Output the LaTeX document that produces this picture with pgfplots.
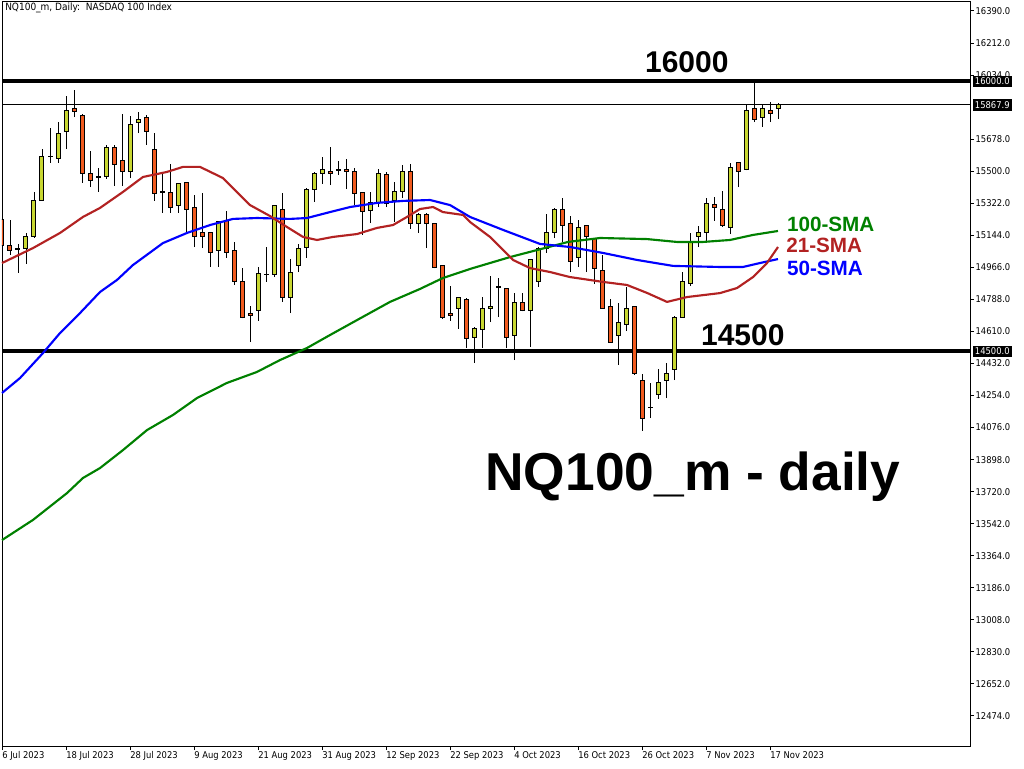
\documentclass[border=0pt]{standalone}
\usepackage{pgfplots}
\pgfplotsset{compat=1.18}
\usepackage{pgfplotstable}
\usepackage{fontspec}
\setmainfont{DejaVu Sans Condensed}
\newfontfamily\arialfont{Liberation Sans}
\definecolor{bull}{RGB}{200,215,50}
\definecolor{bear}{RGB}{240,90,30}
\definecolor{smared}{RGB}{178,34,34}
\definecolor{smablue}{RGB}{0,0,255}
\definecolor{smagreen}{RGB}{0,128,0}
\newcommand\tickfont{\fontsize{7pt}{8pt}\selectfont}

\pgfplotstableread{
k O H L C
0 15229 15235 15079 15090
1 15090 15229 15035 15062
2 15068 15096 14935 15066
3 15068 15157 14985 15140
4 15135 15385 15130 15340
5 15340 15623 15335 15579
6 15579 15740 15546 15582
7 15573 15773 15546 15712
8 15723 15918 15623 15835
9 15846 15951 15801 15829
10 15812 15818 15435 15490
11 15490 15612 15412 15451
12 15468 15518 15385 15466
13 15468 15646 15457 15629
14 15629 15646 15418 15535
15 15557 15818 15418 15496
16 15496 15807 15462 15757
17 15768 15829 15712 15790
18 15796 15812 15646 15723
19 15623 15712 15335 15374
20 15390 15485 15268 15379
21 15379 15540 15268 15296
22 15307 15432 15268 15429
23 15435 15438 15162 15290
24 15296 15368 15079 15135
25 15157 15379 15073 15135
26 15162 15165 14968 15046
27 15057 15221 14968 15218
28 15224 15279 15018 15051
29 15062 15107 14868 14885
30 14890 14963 14682 14685
31 14707 14751 14551 14696
32 14724 14968 14668 14930
33 14924 15079 14885 14926
34 14924 15310 14912 15307
35 15290 15379 14775 14796
36 14801 15012 14712 14935
37 14974 15096 14940 15068
38 15079 15404 15018 15401
39 15401 15496 15329 15490
40 15485 15579 15429 15512
41 15501 15635 15423 15485
42 15507 15557 15479 15505
43 15512 15568 15401 15501
44 15496 15518 15313 15374
45 15379 15385 15146 15274
46 15279 15385 15212 15324
47 15324 15512 15301 15485
48 15479 15496 15301 15318
49 15335 15440 15218 15390
50 15390 15535 15351 15501
51 15501 15540 15179 15212
52 15212 15268 15157 15257
53 15257 15268 15073 15212
54 15212 15215 14960 14963
55 14974 14977 14679 14685
56 14712 14862 14668 14696
57 14735 14801 14624 14796
58 14790 14796 14518 14573
59 14579 14632 14435 14629
60 14618 14801 14518 14735
61 14735 14918 14662 14751
62 14857 14907 14690 14855
63 14851 14854 14518 14579
64 14585 14824 14451 14768
65 14768 14824 14721 14724
66 14724 15010 14524 15007
67 14885 15079 14857 15068
68 15073 15262 15046 15162
69 15162 15293 15129 15290
70 15285 15351 15107 15201
71 15207 15251 14940 14996
72 15023 15229 14968 15190
73 15196 15199 14940 15135
74 15124 15127 14874 14957
75 14946 15035 14735 14740
76 14751 14790 14546 14551
77 14590 14768 14424 14657
78 14651 14857 14612 14740
79 14746 14749 14368 14379
80 14335 14373 14057 14129
81 14190 14323 14129 14188
82 14257 14401 14235 14329
83 14335 14435 14240 14379
84 14401 14693 14340 14690
85 14690 14940 14687 14890
86 14874 15157 14862 15112
87 15140 15196 15079 15157
88 15157 15351 15107 15318
89 15313 15357 15224 15301
90 15290 15390 15190 15201
91 15190 15546 15151 15518
92 15546 15549 15412 15501
93 15507 15873 15504 15835
94 15846 16001 15773 15790
95 15796 15868 15746 15846
96 15835 15885 15773 15823
97 15851 15879 15790 15867.9
}\ohlc

\pgfplotstableread{
k p
0 14990
3.875 15073
7.25 15157
10.125 15246
12.25 15296
15.125 15385
17.625 15468
20.625 15496
22.625 15524
24.75 15524
27.625 15462
31 15312
33.5 15251
35.625 15190
37.625 15135
39.375 15118
41.375 15135
44.375 15151
46.875 15185
48.875 15201
50.625 15246
52.25 15290
53.875 15301
55.125 15273
57.625 15257
58.5 15218
61 15135
63.875 15007
66 14962
68.5 14940
71 14912
75.125 14885
78.125 14868
80.625 14824
83.125 14774
85.625 14801
89.75 14823
91.875 14851
93.875 14912
95.625 14990
97 15079
}\smaTwentyOne

\pgfplotstableread{
k p
0 14268
2.25 14351
5.125 14490
7.25 14601
9.75 14712
12.25 14829
14.375 14896
16.375 14979
20.125 15101
23.125 15157
26 15201
28.875 15235
31.875 15240
36 15235
38.125 15240
41 15273
43.5 15301
46.875 15324
50.125 15335
53.5 15340
56 15312
58.5 15246
62.625 15174
67.25 15096
71 15079
75.125 15046
79.375 15007
83.875 14974
89.75 14968
92.625 14968
94.75 14990
97 15012
}\smaFifty

\pgfplotstableread{
k p
0 13451
3.875 13563
8.125 13712
10.125 13796
12.25 13851
15.125 13951
18.125 14062
21.375 14146
24.375 14240
28.125 14324
31.875 14385
34.75 14451
38.125 14518
41 14590
44.375 14673
48.5 14774
52.25 14846
55.125 14907
58.5 14957
63.5 15023
66.875 15062
70.75 15107
74.75 15129
80.625 15123
84.375 15107
87.625 15107
91 15118
93.875 15146
97 15168
}\smaHundred

\begin{document}
\begin{tikzpicture}
\path[use as bounding box] (0,0) rectangle (768pt,576pt);
\pgfplotsset{base/.style={width=726pt, height=558pt, scale only axis,
  at={(1.5pt,16.5pt)}, anchor=south west,
  xmin=0, xmax=121, ymin=12307.1, ymax=16440}}

% axis frame, ticks, level lines and wicks
\begin{axis}[base,
  axis line style={black, line width=0.75pt},
  tick align=outside, major tick length=3pt,
  tick style={black, line width=0.75pt},
  xtick pos=left, ytick pos=right,
  xticklabel pos=left, yticklabel pos=right,
  xtick={0,8,...,96},
  xticklabels={6 Jul 2023,18 Jul 2023,28 Jul 2023,9 Aug 2023,21 Aug 2023,31 Aug 2023,12 Sep 2023,22 Sep 2023,4 Oct 2023,16 Oct 2023,26 Oct 2023,7 Nov 2023,17 Nov 2023},
  xticklabel style={font=\tickfont, anchor=north west, inner sep=0pt, yshift=-1pt},
  ytick={12474,12652,12830,13008,13186,13364,13542,13720,13898,14076,14254,14432,14610,14788,14966,15144,15322,15500,15678,16034,16212,16390},
  yticklabel style={font=\tickfont, anchor=west, inner sep=0pt, xshift=1pt},
  /pgf/number format/fixed, /pgf/number format/fixed zerofill,
  /pgf/number format/precision=1, /pgf/number format/1000 sep={},
  /pgf/number format/assume math mode=true,
  scaled y ticks=false]
\addplot[black, line width=3pt] coordinates {(0,16000) (121,16000)};
\addplot[black, line width=3pt] coordinates {(0,14500) (121,14500)};
\addplot[black, line width=0.75pt] coordinates {(0,15867.9) (121,15867.9)};
\addplot[draw=none, error bars/.cd, y dir=plus, y explicit, error mark=none,
  error bar style={draw=black, line width=0.75pt}]
  table[x=k, y=L, y error expr=\thisrow{H}-\thisrow{L}] {\ohlc};
\end{axis}

% candle bodies
\begin{axis}[base, hide axis, ybar stacked, bar width=0.5]
\addplot[draw=none, fill=none] table[x=k, y expr={min(\thisrow{O},\thisrow{C})}] {\ohlc};
\addplot[fill=bull, draw=black, line width=0.75pt] table[x=k, y expr={max(\thisrow{C}-\thisrow{O},0)}] {\ohlc};
\addplot[fill=bear, draw=black, line width=0.75pt] table[x=k, y expr={max(\thisrow{O}-\thisrow{C},0)}] {\ohlc};
\end{axis}

% moving averages and annotations
\begin{axis}[base, hide axis, clip=false]
\addplot[smagreen, line width=1.6pt, line join=round] table[x=k, y=p] {\smaHundred};
\addplot[smablue, line width=1.6pt, line join=round] table[x=k, y=p] {\smaFifty};
\addplot[smared, line width=1.6pt, line join=round] table[x=k, y=p] {\smaTwentyOne};

\node[anchor=west, font=\fontsize{7.5pt}{8.5pt}\selectfont, inner sep=0pt] at (axis cs:0.375,16407) {NQ100\_m, Daily:\ \ NASDAQ 100 Index};

\node[font=\arialfont\bfseries\fontsize{22.5pt}{24pt}\selectfont, inner sep=0pt] at (axis cs:85.6,16107) {16000};
\node[font=\arialfont\bfseries\fontsize{22.5pt}{24pt}\selectfont, inner sep=0pt] at (axis cs:92.6,14590) {14500};
\node[anchor=west, text=smagreen, font=\arialfont\bfseries\fontsize{15.5pt}{17pt}\selectfont, inner sep=0pt] at (axis cs:98.1,15207) {100-SMA};
\node[anchor=west, text=smared, font=\arialfont\bfseries\fontsize{15.5pt}{17pt}\selectfont, inner sep=0pt] at (axis cs:98.0,15090) {21-SMA};
\node[anchor=west, text=smablue, font=\arialfont\bfseries\fontsize{15.5pt}{17pt}\selectfont, inner sep=0pt] at (axis cs:98.1,14962) {50-SMA};
\node[anchor=base west, font=\arialfont\bfseries\fontsize{40pt}{44pt}\selectfont, inner sep=0pt] at (axis cs:60.4,13729) {NQ100\_m - daily};

\node[anchor=west, fill=black, text=white, font=\tickfont, inner xsep=1.5pt, inner ysep=1.6pt, xshift=2pt] at (axis cs:121,16000) {16000.0};
\node[anchor=west, fill=black, text=white, font=\tickfont, inner xsep=1.5pt, inner ysep=1.6pt, xshift=2pt] at (axis cs:121,15867.9) {15867.9};
\node[anchor=west, fill=black, text=white, font=\tickfont, inner xsep=1.5pt, inner ysep=1.6pt, xshift=2pt] at (axis cs:121,14500) {14500.0};
\end{axis}
\end{tikzpicture}
\end{document}
